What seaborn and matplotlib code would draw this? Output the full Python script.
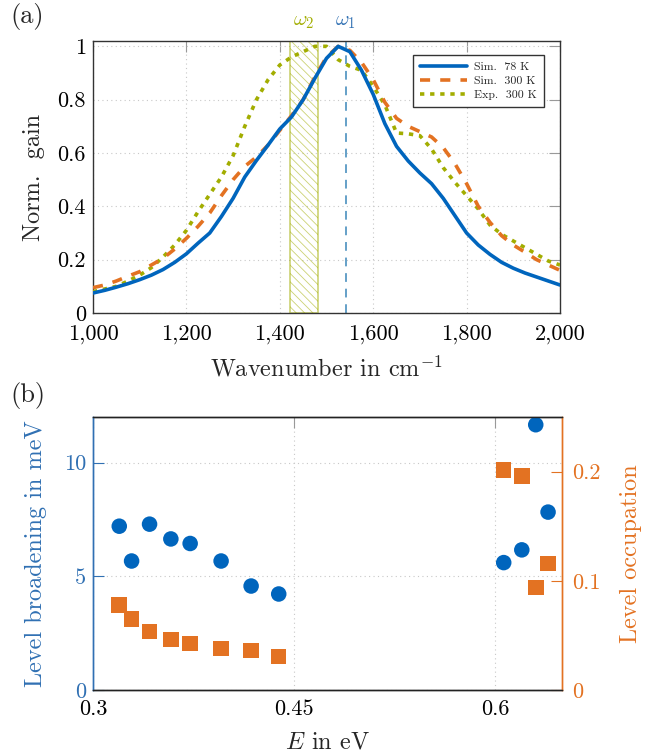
import matplotlib
matplotlib.use("Agg")
import matplotlib.pyplot as plt
from matplotlib.lines import Line2D
from matplotlib.ticker import FuncFormatter, FixedLocator
import seaborn as sns
import pandas as pd

# ---------------- data (top panel) ----------------
wavenumber = [1000, 1025, 1050, 1075, 1100, 1125, 1150, 1175, 1200, 1225,
              1250, 1275, 1300, 1325, 1350, 1375, 1400, 1425, 1450, 1475,
              1500, 1525, 1550, 1575, 1600, 1625, 1650, 1675, 1700, 1725,
              1750, 1775, 1800, 1825, 1850, 1875, 1900, 1925, 1950, 1975, 2000]
sim_78K = [0.075, 0.085, 0.097, 0.110, 0.125, 0.142, 0.163, 0.190, 0.222, 0.262,
           0.300, 0.362, 0.430, 0.510, 0.572, 0.630, 0.690, 0.735, 0.800, 0.880,
           0.955, 1.000, 0.980, 0.910, 0.820, 0.710, 0.625, 0.570, 0.525, 0.485,
           0.430, 0.365, 0.300, 0.255, 0.220, 0.190, 0.168, 0.150, 0.135, 0.120, 0.105]
sim_300K = [0.095, 0.105, 0.120, 0.138, 0.155, 0.180, 0.205, 0.240, 0.280, 0.325,
            0.375, 0.440, 0.500, 0.550, 0.585, 0.630, 0.685, 0.740, 0.800, 0.885,
            0.960, 1.000, 0.985, 0.940, 0.875, 0.790, 0.730, 0.700, 0.680, 0.660,
            0.620, 0.560, 0.485, 0.400, 0.340, 0.290, 0.255, 0.228, 0.200, 0.180, 0.160]
exp_300K = [0.080, 0.090, 0.100, 0.120, 0.142, 0.170, 0.210, 0.255, 0.310, 0.380,
            0.445, 0.510, 0.590, 0.700, 0.800, 0.875, 0.930, 0.960, 0.980, 1.000,
            1.000, 0.950, 0.925, 0.910, 0.850, 0.780, 0.675, 0.672, 0.665, 0.615,
            0.545, 0.490, 0.440, 0.390, 0.330, 0.295, 0.270, 0.245, 0.220, 0.195, 0.180]
series_labels = ["Sim.  78 K", "Sim.  300 K", "Exp.  300 K"]
omega1 = 1541
omega2_band = [1421, 1481]
x_ticks_top = [1000, 1200, 1400, 1600, 1800, 2000]
y_ticks_top = [0, 0.2, 0.4, 0.6, 0.8, 1]

# ---------------- data (bottom panel) ----------------
energy = [0.3196, 0.3288, 0.3422, 0.3581, 0.3725, 0.3956, 0.4180, 0.4386,
          0.6065, 0.6200, 0.6304, 0.6396]
broadening = [7.20, 5.67, 7.29, 6.64, 6.44, 5.67, 4.57, 4.22,
              5.60, 6.16, 11.66, 7.82]
occupation = [0.0778, 0.0652, 0.0537, 0.0464, 0.0427, 0.0381, 0.0360, 0.0305,
              0.2016, 0.1960, 0.0940, 0.1160]
x_ticks_bot = [0.3, 0.45, 0.6]
y_ticks_left = [0, 5, 10]
y_ticks_right = [0, 0.1, 0.2]

BLUE = "#0065BD"
ORANGE = "#E37222"
GREEN = "#A2AD00"
LBLUE = "#64A0C8"
AXBLUE = "#3070B3"

sns.set_theme(style="white")
plt.rcParams["font.family"] = ["cmr10", "DejaVu Serif"]
plt.rcParams["mathtext.fontset"] = "cm"
plt.rcParams["axes.formatter.use_mathtext"] = True
plt.rcParams["axes.unicode_minus"] = False
plt.rcParams["hatch.linewidth"] = 0.6

FT = 16      # tick labels
FL = 17.5    # axis labels
fig = plt.figure(figsize=(6.51, 7.54), dpi=100)

# ---------------- top panel ----------------
ax = fig.add_axes([93 / 651, 1 - 313 / 754, (560 - 93) / 651, (313 - 41) / 754])
df = pd.DataFrame({"wn": wavenumber, "s78": sim_78K, "s300": sim_300K, "e300": exp_300K})

ax.axvspan(omega2_band[0], omega2_band[1], facecolor="none",
           edgecolor=(0.635, 0.678, 0.0, 0.55), hatch="\\\\\\\\", lw=1.2, zorder=1)
ax.axvline(omega1, color=LBLUE, lw=1.4, dashes=(4.5, 3.5), zorder=1)

sns.lineplot(data=df, x="wn", y="e300", ax=ax, color=GREEN, lw=2.6,
             linestyle=(0, (1.2, 1.6)), zorder=3)
sns.lineplot(data=df, x="wn", y="s300", ax=ax, color=ORANGE, lw=2.6,
             linestyle=(0, (2.8, 2.8)), zorder=4)
sns.lineplot(data=df, x="wn", y="s78", ax=ax, color=BLUE, lw=2.6, zorder=5)

ax.set_xlim(1000, 2000)
ax.set_ylim(0, 1.02)
ax.xaxis.set_major_locator(FixedLocator(x_ticks_top))
ax.yaxis.set_major_locator(FixedLocator(y_ticks_top))
ax.xaxis.set_major_formatter(FuncFormatter(lambda v, p: f"{int(v):,}"))
ax.yaxis.set_major_formatter(FuncFormatter(lambda v, p: "0" if v == 0 else ("1" if v == 1 else f"{v:.1f}")))
ax.tick_params(direction="in", length=8, width=0.8, color="#999999", top=True, right=True,
               labelsize=FT, pad=5, labelcolor="black")
ax.tick_params(axis="x", pad=8)
ax.grid(True, color="#c8c8c8", linestyle=(0, (1, 3)), lw=0.8)
for s in ax.spines.values():
    s.set_color("#333333")
    s.set_linewidth(1.0)
ax.set_xlabel(r"Wavenumber in cm$^{-1}$", fontsize=FL, labelpad=9)
ax.set_ylabel("Norm.  gain", fontsize=FL, labelpad=9)

handles = [Line2D([], [], color=BLUE, lw=2.6),
           Line2D([], [], color=ORANGE, lw=2.6, linestyle=(0, (2.8, 2.8))),
           Line2D([], [], color=GREEN, lw=2.6, linestyle=(0, (1.2, 1.6)))]
leg = ax.legend(handles, series_labels, loc="upper right", bbox_to_anchor=(0.978, 0.97),
                fontsize=8.5, handlelength=4.0, handletextpad=0.6, borderpad=0.6,
                labelspacing=0.3, frameon=True, fancybox=False, framealpha=1)
leg.get_frame().set_edgecolor("#333333")
leg.get_frame().set_linewidth(1.0)

ax.text(sum(omega2_band) / 2, 1.035, r"$\omega_2$", color=GREEN, fontsize=15,
        ha="center", va="bottom", transform=ax.get_xaxis_transform())
ax.text(omega1, 1.035, r"$\omega_1$", color=AXBLUE, fontsize=15,
        ha="center", va="bottom", transform=ax.get_xaxis_transform())
fig.text(10 / 651, 1 - 17 / 754, "(a)", fontsize=19, ha="left", va="center")

# ---------------- bottom panel ----------------
axb = fig.add_axes([93 / 651, 1 - 690 / 754, (562 - 93) / 651, (690 - 417) / 754])
axr = axb.twinx()
dfb = pd.DataFrame({"E": energy, "b": broadening, "o": occupation})

sns.scatterplot(data=dfb, x="E", y="b", ax=axb, color=BLUE, marker="o", s=125,
                edgecolor="none", zorder=3)
sns.scatterplot(data=dfb, x="E", y="o", ax=axr, color=ORANGE, marker="s", s=125,
                edgecolor="none", zorder=3)

axb.set_xlim(0.3, 0.65)
axb.set_ylim(0, 12)
axr.set_ylim(0, 0.25)
axb.xaxis.set_major_locator(FixedLocator(x_ticks_bot))
axb.yaxis.set_major_locator(FixedLocator(y_ticks_left))
axr.yaxis.set_major_locator(FixedLocator(y_ticks_right))
axb.xaxis.set_major_formatter(FuncFormatter(lambda v, p: f"{v:g}"))
axb.yaxis.set_major_formatter(FuncFormatter(lambda v, p: f"{int(v)}"))
axr.yaxis.set_major_formatter(FuncFormatter(lambda v, p: "0" if v == 0 else f"{v:g}"))
axb.grid(True, color="#c8c8c8", linestyle=(0, (1, 3)), lw=0.8)
axb.tick_params(axis="x", direction="in", length=8, width=0.8, color="#999999", top=True,
                labelsize=FT, pad=7, labelcolor="black")
axb.tick_params(axis="y", direction="in", length=8, width=0.8, color=AXBLUE,
                labelsize=FT, labelcolor=AXBLUE, pad=5, right=False)
axr.tick_params(axis="y", direction="in", length=8, width=0.8, color=ORANGE,
                labelsize=FT, labelcolor=ORANGE, pad=7)
for a in (axb, axr):
    a.spines["top"].set_color("#222222")
    a.spines["bottom"].set_color("#222222")
    a.spines["left"].set_color(AXBLUE)
    a.spines["right"].set_color(ORANGE)
    for s in a.spines.values():
        s.set_linewidth(1.0)
axb.set_xlabel(r"$E$ in eV", fontsize=FL, labelpad=9)
axb.set_ylabel("Level broadening in meV", fontsize=FL, color=AXBLUE, labelpad=12)
axr.set_ylabel("Level occupation", fontsize=FL, color=ORANGE, labelpad=14)
fig.text(10 / 651, 1 - 396 / 754, "(b)", fontsize=19, ha="left", va="center")

fig.savefig("out.png", dpi=100)
